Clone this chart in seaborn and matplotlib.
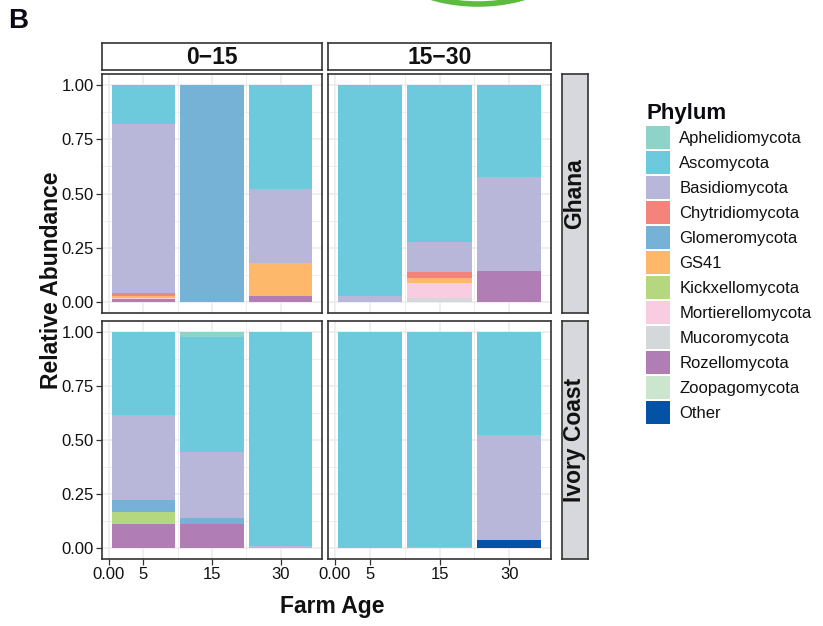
import matplotlib
matplotlib.use("Agg")
import numpy as np
import pandas as pd
import matplotlib.pyplot as plt
import seaborn as sns
from matplotlib.patches import Patch, Arc

sns.set_theme(style="white")
plt.rcParams['font.family'] = ['Liberation Sans', 'DejaVu Sans']

# facets and categories
countries = ["Ghana", "Ivory Coast"]
depths = ["0\u221215", "15\u221230"]
ages = ["5", "15", "30"]

# values per phylum, order: Ghana 0-15 (5,15,30), Ghana 15-30, Ivory 0-15, Ivory 15-30
phyla = ["Aphelidiomycota", "Ascomycota", "Basidiomycota", "Chytridiomycota",
         "Glomeromycota", "GS41", "Kickxellomycota", "Mortierellomycota",
         "Mucoromycota", "Rozellomycota", "Zoopagomycota", "Other"]
aphelidiomycota = [0, 0, 0, 0, 0, 0, 0, 0.025, 0, 0, 0, 0]
ascomycota = [0.18, 0, 0.48, 0.97, 0.722, 0.425, 0.385, 0.53, 0.99, 1.0, 0.995, 0.475]
basidiomycota = [0.78, 0, 0.34, 0.03, 0.14, 0.43, 0.39, 0.305, 0.01, 0, 0.005, 0.485]
chytridiomycota = [0.014, 0, 0, 0, 0.028, 0, 0, 0, 0, 0, 0, 0]
glomeromycota = [0, 1.0, 0, 0, 0, 0, 0.06, 0.03, 0, 0, 0, 0]
gs41 = [0.006, 0, 0.15, 0, 0.023, 0, 0, 0, 0, 0, 0, 0]
kickxellomycota = [0, 0, 0, 0, 0, 0, 0.055, 0, 0, 0, 0, 0]
mortierellomycota = [0.006, 0, 0, 0, 0.07, 0, 0, 0, 0, 0, 0, 0]
mucoromycota = [0, 0, 0, 0, 0.017, 0, 0, 0, 0, 0, 0, 0]
rozellomycota = [0.014, 0, 0.03, 0, 0, 0.145, 0.11, 0.11, 0, 0, 0, 0]
zoopagomycota = [0, 0, 0, 0, 0, 0, 0, 0, 0, 0, 0, 0]
other = [0, 0, 0, 0, 0, 0, 0, 0, 0, 0, 0, 0.04]

colors = ["#8DD3C7", "#6CCADC", "#B8B6D9", "#F4837B", "#76B1D6", "#FDB86B",
          "#B4D77F", "#F8CDE1", "#D5D8DA", "#B17DB5", "#CBE6CC", "#0352A5"]

values = [aphelidiomycota, ascomycota, basidiomycota, chytridiomycota, glomeromycota,
          gs41, kickxellomycota, mortierellomycota, mucoromycota, rozellomycota,
          zoopagomycota, other]

rows = []
for p, vals in zip(phyla, values):
    k = 0
    for c in countries:
        for d in depths:
            for a in ages:
                rows.append(dict(country=c, depth=d, age=a, phylum=p, value=vals[k]))
                k += 1
df = pd.DataFrame(rows)
df['phylum'] = pd.Categorical(df['phylum'], categories=phyla, ordered=True)
# first level sits on top of the stack -> cumulative from the bottom (Other)
df = df.sort_values(['country', 'depth', 'age', 'phylum'])
df['cum'] = df.iloc[::-1].groupby(['country', 'depth', 'age'])['value'].cumsum()

W, H = 823, 626
fig = plt.figure(figsize=(W / 100, H / 100), dpi=100)


def fx(px):
    return px / W


def fy(py):
    return 1 - py / H


edge = "#333333"
txt = "#111111"
panel_x = [(102, 322), (328, 551)]
panel_y = [(74, 313), (321, 559)]

for ri, c in enumerate(countries):
    for ci, d in enumerate(depths):
        x0, x1 = panel_x[ci]
        y0, y1 = panel_y[ri]
        ax = fig.add_axes([fx(x0), fy(y1), fx(x1 - x0), (y1 - y0) / H])
        sub = df[(df.country == c) & (df.depth == d)]
        for p, col in zip(phyla, colors):
            s = sub[sub.phylum == p]
            sns.barplot(data=s, x='age', y='cum', order=ages, color=col,
                        saturation=1, width=0.92, linewidth=0, errorbar=None, ax=ax)
        ax.set_xlim(-0.6, 2.6)
        ax.set_ylim(-0.05, 1.05)
        ax.set_xlabel("")
        ax.set_ylabel("")
        ax.set_xticks([-0.5, 0, 1, 2])
        ax.set_xticks([0.5, 1.5], minor=True)
        ax.set_yticks([0, 0.25, 0.5, 0.75, 1.0])
        ax.set_yticks([0.125, 0.375, 0.625, 0.875], minor=True)
        ax.grid(which='major', color="#EBEBEB", lw=1.1)
        ax.grid(which='minor', color="#EBEBEB", lw=0.6)
        ax.set_axisbelow(True)
        ax.set_facecolor("white")
        for sp in ax.spines.values():
            sp.set_visible(True)
            sp.set_color(edge)
            sp.set_linewidth(1.2)
        ax.tick_params(which='minor', length=0)
        ax.tick_params(which='major', direction='out', length=4, width=0.9,
                       color=edge, labelsize=12, labelcolor=txt, pad=2)
        if ri == 1:
            ax.set_xticklabels(["0.00", "5", "15", "30"])
            ax.tick_params(axis='x', bottom=True)
        else:
            ax.set_xticklabels([])
            ax.tick_params(axis='x', bottom=False)
        if ci == 0:
            ax.set_yticklabels(["0.00", "0.25", "0.50", "0.75", "1.00"])
            ax.tick_params(axis='y', left=True)
        else:
            ax.set_yticklabels([])
            ax.tick_params(axis='y', left=False)

        # column strips
        if ri == 0:
            sax = fig.add_axes([fx(x0), fy(70), fx(x1 - x0), 27 / H])
            sax.set_facecolor("white")
            sax.set_xticks([])
            sax.set_yticks([])
            for sp in sax.spines.values():
                sp.set_color(edge)
                sp.set_linewidth(1.2)
            sax.text(0.5, 0.47, d, ha='center', va='center', fontsize=16.5,
                     fontweight='bold', color=txt, transform=sax.transAxes)
        # row strips
        if ci == 1:
            sax = fig.add_axes([fx(562), fy(y1), fx(26), (y1 - y0) / H])
            sax.set_facecolor("#D6D8DB")
            sax.set_xticks([])
            sax.set_yticks([])
            for sp in sax.spines.values():
                sp.set_color(edge)
                sp.set_linewidth(1.2)
            sax.text(0.5, 0.5, c, ha='center', va='center', rotation=90, fontsize=16.5,
                     fontweight='bold', color=txt, transform=sax.transAxes)

fig.text(fx(332), fy(607), "Farm Age", ha='center', va='center', fontsize=16.5,
         fontweight='bold', color=txt)
fig.text(fx(52), fy(280), "Relative Abundance", ha='center', va='center', rotation=90,
         fontsize=16.5, fontweight='bold', color=txt)
fig.text(fx(8), fy(21), "B", ha='left', va='center', fontsize=20, fontweight='bold',
         color="#0A0A14")

# piece of the panel above
fig.patches.append(Arc((fx(478), fy(-40)), fx(176), 88 / H, theta1=205, theta2=335,
                       color="#5DBB3F", lw=4, transform=fig.transFigure, figure=fig))

handles = [Patch(facecolor=col, edgecolor='none') for col in colors]
leg = fig.legend(handles, phyla, loc='upper left', bbox_to_anchor=(fx(646), fy(103)),
                 frameon=False, title="Phylum", fontsize=12,
                 title_fontproperties={'weight': 'bold', 'size': 16},
                 alignment='left', handlelength=1.44, handleheight=1.75,
                 labelspacing=0.12, handletextpad=0.55, borderpad=0, borderaxespad=0)
for t in leg.get_texts():
    t.set_color(txt)
leg.get_title().set_color("#0A0A14")

fig.savefig("out.png", dpi=100)
